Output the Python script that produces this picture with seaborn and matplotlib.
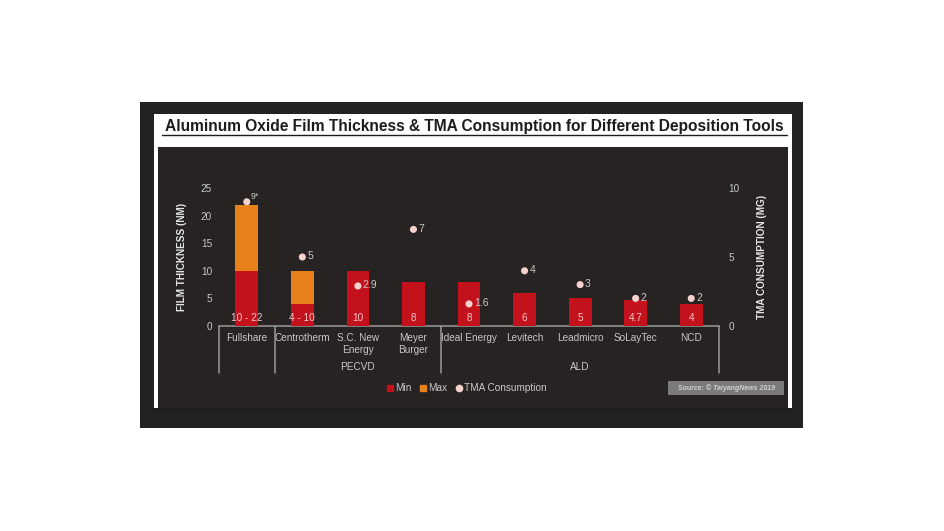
import matplotlib
matplotlib.use("Agg")
import matplotlib.pyplot as plt
from matplotlib.patches import Rectangle
from matplotlib.lines import Line2D
import numpy as np
import seaborn as sns

# data
tools = ["Fullshare", "Centrotherm", "S.C. New\nEnergy", "Meyer\nBurger", "Ideal Energy",
         "Levitech", "Leadmicro", "SoLayTec", "NCD"]
min_nm = [10, 4, 10, 8, 8, 6, 5, 4.7, 4]
max_nm = [22, 10, np.nan, np.nan, np.nan, np.nan, np.nan, np.nan, np.nan]
bar_labels = ["10 - 22", "4 - 10", "10", "8", "8", "6", "5", "4.7", "4"]
tma_mg = [9, 5, 2.9, 7, 1.6, 4, 3, 2, 2]
tma_labels = ["9*", "5", "2.9", "7", "1.6", "4", "3", "2", "2"]
group_names = ["", "PECVD", "ALD"]
group_start = [0, 1, 4]
group_end = [0, 3, 8]

RED = "#c4121d"
ORANGE = "#e8801c"
DOT = "#f5d2cd"
GREY = "#c8c8c8"
LINE = "#9a9a9a"
PANEL = "#262322"
FS = 7.2

sns.set_style("white")
plt.rcParams["font.family"] = ["Liberation Sans", "DejaVu Sans"]

W, H = 944, 531
fig = plt.figure(figsize=(W / 100, H / 100), dpi=100, facecolor="white")


def box(x0, y0, x1, y1, color, z=-10):
    fig.patches.append(Rectangle((x0 / W, 1 - y1 / H), (x1 - x0) / W, (y1 - y0) / H,
                                 transform=fig.transFigure, facecolor=color,
                                 edgecolor="none", zorder=z))


# frames
box(140, 102, 803, 428, "#222222", -13)
box(154, 114, 792, 410, "white", -12)
box(158, 147, 788, 408, PANEL, -11)
box(154, 408, 792, 412, "#1e1e1e", -11)

# title with underline
fig.text(474 / W, 1 - 127 / H,
         "Aluminum Oxide Film Thickness & TMA Consumption for Different Deposition Tools",
         ha="center", va="center", fontsize=11.2, fontweight="bold", color="#1c1c1c")
fig.add_artist(Line2D([162 / W, 787 / W], [1 - 135 / H, 1 - 135 / H],
                      transform=fig.transFigure, color="#1c1c1c", lw=1))

ax = fig.add_axes([219 / W, 1 - 326 / H, 500 / W, 138 / H])
ax.set_facecolor("none")

sns.barplot(x=tools, y=max_nm, order=tools, color=ORANGE, width=0.41, linewidth=0,
            edgecolor="none", errorbar=None, saturation=1, ax=ax, zorder=2)
sns.barplot(x=tools, y=min_nm, order=tools, color=RED, width=0.41, linewidth=0,
            edgecolor="none", errorbar=None, saturation=1, ax=ax, zorder=3)

ax.set_xlim(-0.5, len(tools) - 0.5)
ax.set_ylim(0, 25)
ax.set_yticks([0, 5, 10, 15, 20, 25])
ax.tick_params(axis="y", length=0, pad=5, labelsize=FS, labelcolor=GREY)
ax.tick_params(axis="x", length=0, pad=5, labelsize=FS, labelcolor=GREY)
for lab in ax.get_xticklabels():
    lab.set_linespacing(1.3)
for s in ax.spines.values():
    s.set_visible(False)
ax.set_xlabel("")
ax.set_ylabel("FILM THICKNESS (NM)", fontsize=FS, fontweight="bold", color="#e6e6e6",
              labelpad=10)

for i, t in enumerate(bar_labels):
    ax.text(i, 1.4, t, ha="center", va="center", fontsize=FS, color="#f3c6c6", zorder=4)

# category group lines
xt = ax.get_xaxis_transform()
ax.plot([-0.5, len(tools) - 0.5], [0, 0], transform=xt, color=LINE, lw=1.1, clip_on=False)
bounds = sorted(set([s - 0.5 for s in group_start] + [e + 0.5 for e in group_end]))
for b in bounds:
    ax.plot([b, b], [0, -0.34], transform=xt, color=LINE, lw=1.1, clip_on=False)
for name, s, e in zip(group_names, group_start, group_end):
    if name:
        ax.text((s + e) / 2, -0.297, name, transform=xt, ha="center", va="center",
                fontsize=FS, color=GREY)

# TMA consumption on right axis
ax2 = ax.twinx()
sns.scatterplot(x=list(range(len(tools))), y=tma_mg, color=DOT, s=26, edgecolor="none",
                ax=ax2, zorder=5)
ax2.set_ylim(0, 10)
ax2.set_yticks([0, 5, 10])
ax2.tick_params(axis="y", length=0, pad=7, labelsize=FS, labelcolor=GREY)
for s in ax2.spines.values():
    s.set_visible(False)
ax2.set_ylabel("TMA CONSUMPTION (MG)", fontsize=FS, fontweight="bold", color="#e6e6e6",
               labelpad=12)
for i, (v, t) in enumerate(zip(tma_mg, tma_labels)):
    if t.endswith("*"):
        ax2.annotate(t, (i, v), xytext=(3, 4), textcoords="offset points",
                     ha="left", va="center", fontsize=6.3, color=GREY)
    else:
        ax2.annotate(t, (i, v), xytext=(3.5, 0.5), textcoords="offset points",
                     ha="left", va="center", fontsize=7.5, color=GREY)

# legend
handles = [
    Line2D([], [], marker="s", ls="none", color=RED, markersize=4.5, label="Min"),
    Line2D([], [], marker="s", ls="none", color=ORANGE, markersize=4.5, label="Max"),
    Line2D([], [], marker="o", ls="none", color=DOT, markersize=4.5, label="TMA Consumption"),
]
leg = fig.legend(handles=handles, loc="center", bbox_to_anchor=(467 / W, 1 - 388 / H),
                 ncol=3, frameon=False, fontsize=FS, handlelength=0.6, handletextpad=0.2,
                 columnspacing=0.9, labelcolor=GREY)

# source box
box(668, 381, 784, 395, "#7a7a7a", z=1)
fig.text(726 / W, 1 - 388 / H, "Source: © TaiyangNews 2019", ha="center", va="center",
         fontsize=5, fontstyle="italic", fontweight="bold", color="#d0d0d0")

fig.savefig("out.png", dpi=100, facecolor="white")
